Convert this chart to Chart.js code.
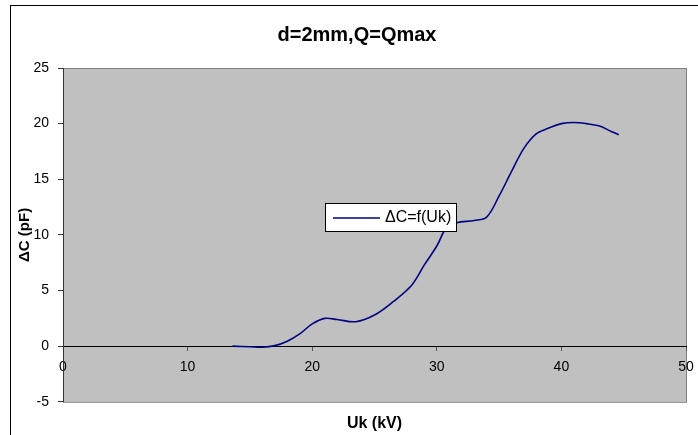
<!DOCTYPE html>
<html lang="en">
<head>
    <meta charset="UTF-8">
    <title>d=2mm,Q=Qmax</title>
    <script src="https://cdn.jsdelivr.net/npm/chart.js"></script>
    <style>
        body { margin: 0; background: #fff; }
        #wrap { width: 698px; height: 435px; }
    </style>
</head>
<body>
    <div id="wrap"><canvas id="dcChart"></canvas></div>

    <script>
        // measured points: Uk in kV, delta C in pF
        const uk = [13.6, 15, 16, 17, 18, 19, 20, 21, 22, 23.5, 25, 26.5, 28, 29, 30, 30.8, 31.6, 33, 34, 35, 36, 37, 38, 39, 40, 41, 42, 43, 44, 44.6];
        const dc = [0, -0.05, -0.1, 0.05, 0.45, 1.1, 2.0, 2.5, 2.4, 2.2, 2.8, 4.0, 5.5, 7.3, 9.0, 10.7, 11.1, 11.3, 11.6, 13.5, 15.7, 17.8, 19.1, 19.6, 20.0, 20.1, 20.0, 19.8, 19.3, 19.0];
        const xTicks = [0, 10, 20, 30, 40, 50];
        const yTicks = [-5, 0, 5, 10, 15, 20, 25];
        const seriesName = "ΔC=f(Uk)";

        const font = "Arial, 'Liberation Sans', sans-serif";

        // grey plot area and the outer frame
        const plotBg = {
            id: "plotBg",
            beforeDraw(chart) {
                const { ctx, chartArea: a } = chart;
                ctx.save();
                ctx.strokeStyle = "#000";
                ctx.lineWidth = 1;
                ctx.strokeRect(10.5, 5.5, 700, 440);
                ctx.fillStyle = "#c0c0c0";
                ctx.fillRect(a.left, a.top, a.right - a.left, a.bottom - a.top);
                ctx.strokeStyle = "#808080";
                ctx.strokeRect(a.left + 0.5, a.top + 0.5, a.right - a.left, a.bottom - a.top);
                ctx.restore();
            }
        };

        // boxed legend sitting inside the plot
        const boxLegend = {
            id: "boxLegend",
            afterDatasetsDraw(chart) {
                const ctx = chart.ctx;
                const ds = chart.data.datasets[0];
                ctx.save();
                ctx.fillStyle = "#fff";
                ctx.fillRect(325.5, 203.5, 131, 28);
                ctx.strokeStyle = "#000";
                ctx.lineWidth = 1;
                ctx.strokeRect(325.5, 203.5, 131, 28);
                ctx.strokeStyle = ds.borderColor;
                ctx.lineWidth = 1.5;
                ctx.beginPath();
                ctx.moveTo(333, 218);
                ctx.lineTo(380, 218);
                ctx.stroke();
                ctx.fillStyle = "#000";
                ctx.font = "16px " + font;
                ctx.textBaseline = "middle";
                ctx.fillText(ds.label, 385, 218);
                ctx.restore();
            }
        };

        const ctx = document.getElementById("dcChart").getContext("2d");
        const dcChart = new Chart(ctx, {
            type: "line",
            data: {
                datasets: [{
                    label: seriesName,
                    data: uk.map((u, i) => ({ x: u, y: dc[i] })),
                    borderColor: "#000080",
                    borderWidth: 1.6,
                    pointRadius: 0,
                    tension: 0.35,
                    fill: false
                }]
            },
            options: {
                responsive: true,
                maintainAspectRatio: false,
                devicePixelRatio: 1,
                animation: false,
                layout: { padding: { left: 16, right: 0, top: 0, bottom: 0 } },
                plugins: {
                    legend: { display: false },
                    tooltip: { enabled: false },
                    title: {
                        display: true,
                        text: "d=2mm,Q=Qmax",
                        color: "#000",
                        font: { family: font, size: 20, weight: "bold" },
                        padding: { top: 23, bottom: 21 }
                    }
                },
                scales: {
                    x: {
                        type: "linear",
                        position: { y: 0 },
                        min: 0,
                        max: 50,
                        afterBuildTicks: s => { s.ticks = xTicks.map(v => ({ value: v })); },
                        afterFit: s => { s.paddingLeft = 0; s.paddingRight = 0; },
                        ticks: { color: "#000", font: { family: font, size: 14 }, padding: 9, maxRotation: 0 },
                        grid: { drawOnChartArea: false, drawTicks: true, tickLength: 4, color: "#555" },
                        border: { display: true, color: "#000", width: 1 }
                    },
                    x2: {
                        type: "linear",
                        position: "bottom",
                        min: 0,
                        max: 50,
                        ticks: { display: false },
                        grid: { display: false },
                        border: { display: false },
                        title: {
                            display: true,
                            text: "Uk (kV)",
                            color: "#000",
                            font: { family: font, size: 16, weight: "bold" },
                            padding: { top: 4, bottom: 2 }
                        }
                    },
                    y: {
                        type: "linear",
                        position: "left",
                        min: -5,
                        max: 25,
                        afterBuildTicks: s => { s.ticks = yTicks.map(v => ({ value: v })); },
                        afterFit: s => { s.width = 47; },
                        ticks: { color: "#000", font: { family: font, size: 14 }, padding: 9 },
                        grid: { drawOnChartArea: false, drawTicks: true, tickLength: 5, color: "#333" },
                        border: { display: true, color: "#333", width: 1 },
                        title: {
                            display: true,
                            text: "ΔC (pF)",
                            color: "#000",
                            font: { family: font, size: 15, weight: "bold", lineHeight: 1 },
                            padding: { top: 1, bottom: 0 }
                        }
                    },
                    yr: {
                        type: "linear",
                        position: "right",
                        min: -5,
                        max: 25,
                        ticks: { display: false },
                        grid: { display: false },
                        border: { display: false },
                        afterFit: s => { s.width = 12; }
                    }
                }
            },
            plugins: [plotBg, boxLegend]
        });
    </script>
</body>
</html>
